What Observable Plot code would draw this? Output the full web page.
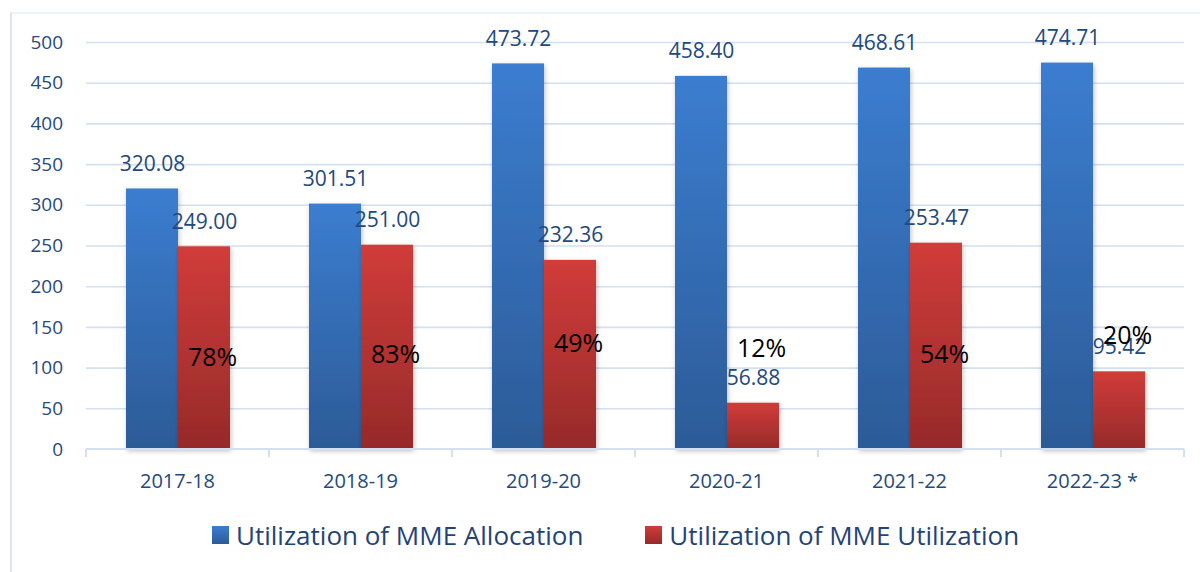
<!DOCTYPE html>
<html>
<head>
<meta charset="utf-8">
<script src="https://cdn.jsdelivr.net/npm/d3@7"></script>
<script src="https://cdn.jsdelivr.net/npm/@observablehq/plot@0.6"></script>
<style>
  html, body { margin: 0; padding: 0; background: #fff; }
  #wrap { position: relative; width: 1200px; height: 572px; overflow: hidden; font-family: "Open Sans", sans-serif; }
  #border { position: absolute; left: 10px; top: 12px; width: 1200px; height: 600px; border-left: 2px solid #dbe5f3; border-top: 2px solid #eef2f9; }
  #chart { position: absolute; left: 0; top: 0; }
  #legend { position: absolute; left: 0; top: 517px; width: 1200px; display: flex; justify-content: flex-start; gap: 62px; font-size: 26px; color: #1f4478; padding-left: 212px; box-sizing: border-box; }
  .item { display: flex; align-items: center; gap: 7px; }
  .sw { width: 17px; height: 18px; display: inline-block; }
</style>
</head>
<body>
<div id="wrap">
  <div id="border"></div>
  <div id="chart"></div>
  <div id="legend"></div>
</div>
<script>
const years = ["2017-18", "2018-19", "2019-20", "2020-21", "2021-22", "2022-23 *"];
const allocation = [320.08, 301.51, 473.72, 458.40, 468.61, 474.71];
const utilization = [249.00, 251.00, 232.36, 56.88, 253.47, 95.42];
const percentLabels = ["78%", "83%", "49%", "12%", "54%", "20%"];
const percentLabelY = [113, 115.5, 130, 124, 115.5, 140];
const seriesNames = ["Utilization of MME Allocation", "Utilization of MME Utilization"];
const yTicks = [0, 50, 100, 150, 200, 250, 300, 350, 400, 450, 500];

const rows = [];
years.forEach((yr, i) => {
  rows.push({year: yr, series: "A", value: allocation[i]});
  rows.push({year: yr, series: "U", value: utilization[i]});
});
const pct = years.map((yr, i) => ({year: yr, series: "U", label: percentLabels[i], y: percentLabelY[i]}));

const tickColor = "#254a7c";
const valueColor = "#22497d";

const plot = Plot.plot({
  width: 1200,
  height: 500,
  marginLeft: 86,
  marginRight: 16,
  marginTop: 42,
  marginBottom: 51,
  style: {fontFamily: "Open Sans, sans-serif", background: "transparent", overflow: "visible"},
  fx: {domain: years, padding: 0, label: null, axis: null},
  x: {domain: ["A", "U"], paddingInner: 0, paddingOuter: 0.743, axis: null},
  y: {domain: [0, 500], ticks: yTicks, label: null, axis: null},
  marks: [
    Plot.gridY(yTicks.filter(d => d > 0), {stroke: "#d3e0f1", strokeOpacity: 1, strokeWidth: 1.6}),
    Plot.barY(rows, {fx: "year", x: "series", y: "value",
      fill: d => d.series === "A" ? "url(#gradA)" : "url(#gradU)"}),
    Plot.text(rows, {fx: "year", x: "series", y: "value", text: d => d.value.toFixed(2),
      dy: -25, fill: valueColor, fontSize: 21}),
    Plot.text(pct, {fx: "year", x: "series", y: "y", text: "label", dx: 8, fill: "#000", fontSize: 25})
  ]
});

const svg = d3.select(plot);
const defs = svg.insert("defs", ":first-child");
const gA = defs.append("linearGradient").attr("id", "gradA").attr("x1", 0).attr("y1", 0).attr("x2", 0).attr("y2", 1);
gA.append("stop").attr("offset", "0%").attr("stop-color", "#3b7dd0");
gA.append("stop").attr("offset", "100%").attr("stop-color", "#2c5b97");
const gU = defs.append("linearGradient").attr("id", "gradU").attr("x1", 0).attr("y1", 0).attr("x2", 0).attr("y2", 1);
gU.append("stop").attr("offset", "0%").attr("stop-color", "#d13c3a");
gU.append("stop").attr("offset", "100%").attr("stop-color", "#962a29");
const f = defs.append("filter").attr("id", "shadow").attr("x", "-20%").attr("y", "-20%").attr("width", "140%").attr("height", "140%");
f.append("feDropShadow").attr("dx", 1).attr("dy", 2).attr("stdDeviation", 2.5).attr("flood-color", "#000").attr("flood-opacity", 0.25);
svg.selectAll("g[aria-label='bar'] rect").attr("filter", "url(#shadow)");

// axes drawn from the plot's own scales
const fx = plot.scale("fx"), y = plot.scale("y");
const bw = fx.bandwidth;
const x0 = fx.apply(years[0]), x1 = fx.apply(years[years.length - 1]) + bw;
const y0 = y.apply(0);
const ax = svg.append("g");
ax.append("line").attr("x1", x0).attr("x2", x1).attr("y1", y0).attr("y2", y0)
  .attr("stroke", "#d3e0f1").attr("stroke-width", 2);
years.forEach((yr, i) => {
  const xs = fx.apply(yr);
  ax.append("line").attr("x1", xs).attr("x2", xs).attr("y1", y0).attr("y2", y0 + 8)
    .attr("stroke", "#d3e0f1").attr("stroke-width", 2);
  ax.append("text").attr("x", xs + bw / 2).attr("y", y0 + 39).attr("text-anchor", "middle")
    .attr("fill", tickColor).attr("font-size", 20).text(yr);
});
ax.append("line").attr("x1", x1).attr("x2", x1).attr("y1", y0).attr("y2", y0 + 8)
  .attr("stroke", "#d3e0f1").attr("stroke-width", 2);
yTicks.forEach(t => {
  ax.append("text").attr("x", 63).attr("y", y.apply(t)).attr("dy", "0.35em").attr("text-anchor", "end")
    .attr("fill", tickColor).attr("font-size", 19).text(t);
});

document.getElementById("chart").appendChild(plot);

const legend = d3.select("#legend");
const swatches = ["linear-gradient(#3b7dd0,#2c5b97)", "linear-gradient(#d13c3a,#962a29)"];
seriesNames.forEach((name, i) => {
  const it = legend.append("div").attr("class", "item");
  it.append("span").attr("class", "sw").style("background", swatches[i]);
  it.append("span").text(name);
});
</script>
</body>
</html>
